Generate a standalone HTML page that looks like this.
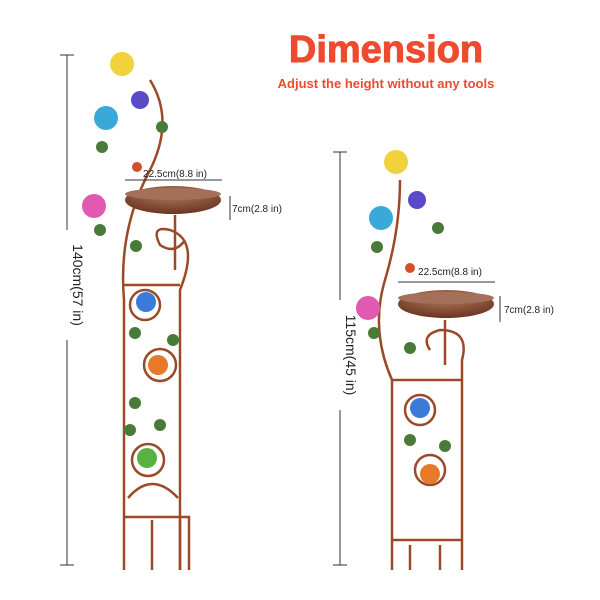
<!DOCTYPE html>
<html><head><style>
body{margin:0;background:#fff;}
svg{display:block;font-family:"Liberation Sans",sans-serif;}
</style></head><body>
<svg width="600" height="600" viewBox="0 0 600 600" xmlns="http://www.w3.org/2000/svg">
<defs>
<radialGradient id="bowl" cx="50%" cy="30%" r="70%"><stop offset="0" stop-color="#b07a5a"/><stop offset="1" stop-color="#6a3422"/></radialGradient>
</defs>
<rect width="600" height="600" fill="#fff"/>
<text x="386" y="62" text-anchor="middle" font-size="38" font-weight="bold" fill="#ee4a2e" stroke="#ee4a2e" stroke-width="1">Dimension</text>
<text x="386" y="88" text-anchor="middle" font-size="13" font-weight="bold" fill="#ee4a2e">Adjust the height without any tools</text>

<g stroke="#333" stroke-width="1">
<line x1="67" y1="55" x2="67" y2="565"/><line x1="60" y1="55" x2="74" y2="55"/><line x1="60" y1="565" x2="74" y2="565"/>
<line x1="340" y1="152" x2="340" y2="565"/><line x1="333" y1="152" x2="347" y2="152"/><line x1="333" y1="565" x2="347" y2="565"/>
</g>
<rect x="58" y="230" width="18" height="110" fill="#fff"/>
<text transform="translate(73,285) rotate(90)" text-anchor="middle" font-size="14" fill="#222">140cm(57 in)</text>
<rect x="331" y="300" width="18" height="110" fill="#fff"/>
<text transform="translate(346,355) rotate(90)" text-anchor="middle" font-size="14" fill="#222">115cm(45 in)</text>

<g fill="none" stroke="#9a4a28" stroke-width="2.5">
<path d="M124 570 V300 Q118 230 150 170 Q175 120 150 80"/>
<path d="M180 570 V290 Q200 240 170 230 Q150 225 160 245 Q175 255 185 240"/>
<path d="M124 285 H180 M124 517 H180 M128 498 Q152 470 178 498"/>
<path d="M175 215 V270"/>
<circle cx="145" cy="305" r="15"/><circle cx="160" cy="365" r="16"/><circle cx="148" cy="460" r="16"/>
<path d="M152 570 V520 M180 570 V520 M189 570 V517 H180"/>
</g>
<ellipse cx="173" cy="200" rx="48" ry="14" fill="url(#bowl)"/>
<ellipse cx="173" cy="194" rx="48" ry="6" fill="#a5705a"/>
<g stroke="#333"><line x1="125" y1="180" x2="222" y2="180"/><line x1="230" y1="196" x2="230" y2="220"/></g>
<text x="175" y="177" text-anchor="middle" font-size="10" fill="#222">22.5cm(8.8 in)</text>
<text x="232" y="212" font-size="10" fill="#222">7cm(2.8 in)</text>

<g fill="none" stroke="#9a4a28" stroke-width="2.5">
<path d="M392 570 V380 Q370 330 385 280 Q400 230 400 180"/>
<path d="M462 570 V360 Q470 330 440 330 Q420 335 430 350"/>
<path d="M392 380 H462 M392 540 H462"/>
<path d="M445 320 V365"/>
<circle cx="420" cy="410" r="15"/><circle cx="430" cy="470" r="15"/>
<path d="M410 570 V545 M440 570 V545"/>
</g>
<ellipse cx="446" cy="304" rx="48" ry="14" fill="url(#bowl)"/>
<ellipse cx="446" cy="298" rx="48" ry="6" fill="#a5705a"/>
<g stroke="#333"><line x1="398" y1="282" x2="495" y2="282"/><line x1="500" y1="296" x2="500" y2="322"/></g>
<text x="450" y="275" text-anchor="middle" font-size="10" fill="#222">22.5cm(8.8 in)</text>
<text x="504" y="313" font-size="10" fill="#222">7cm(2.8 in)</text>

<g>
<circle cx="122" cy="64" r="12" fill="#f2d23a"/><circle cx="106" cy="118" r="12" fill="#3aa8d8"/><circle cx="94" cy="206" r="12" fill="#e05ab0"/>
<circle cx="140" cy="100" r="9" fill="#5a4ac8"/><circle cx="146" cy="302" r="10" fill="#3a7ad8"/><circle cx="158" cy="365" r="10" fill="#e8782a"/><circle cx="147" cy="458" r="10" fill="#5ab040"/>
<circle cx="396" cy="162" r="12" fill="#f2d23a"/><circle cx="381" cy="218" r="12" fill="#3aa8d8"/><circle cx="368" cy="308" r="12" fill="#e05ab0"/>
<circle cx="417" cy="200" r="9" fill="#5a4ac8"/><circle cx="420" cy="408" r="10" fill="#3a7ad8"/><circle cx="430" cy="474" r="10" fill="#e8782a"/>
<circle cx="137" cy="167" r="5" fill="#d0502a"/><circle cx="410" cy="268" r="5" fill="#d0502a"/>
</g>
<g fill="#4a7a3a">
<circle cx="162" cy="127" r="6"/><circle cx="102" cy="147" r="6"/><circle cx="100" cy="230" r="6"/><circle cx="135" cy="333" r="6"/><circle cx="135" cy="403" r="6"/><circle cx="130" cy="430" r="6"/><circle cx="173" cy="340" r="6"/><circle cx="160" cy="425" r="6"/><circle cx="136" cy="246" r="6"/>
<circle cx="438" cy="228" r="6"/><circle cx="377" cy="247" r="6"/><circle cx="374" cy="333" r="6"/><circle cx="410" cy="348" r="6"/><circle cx="410" cy="440" r="6"/><circle cx="445" cy="446" r="6"/>
</g>
</svg>
</body></html>
